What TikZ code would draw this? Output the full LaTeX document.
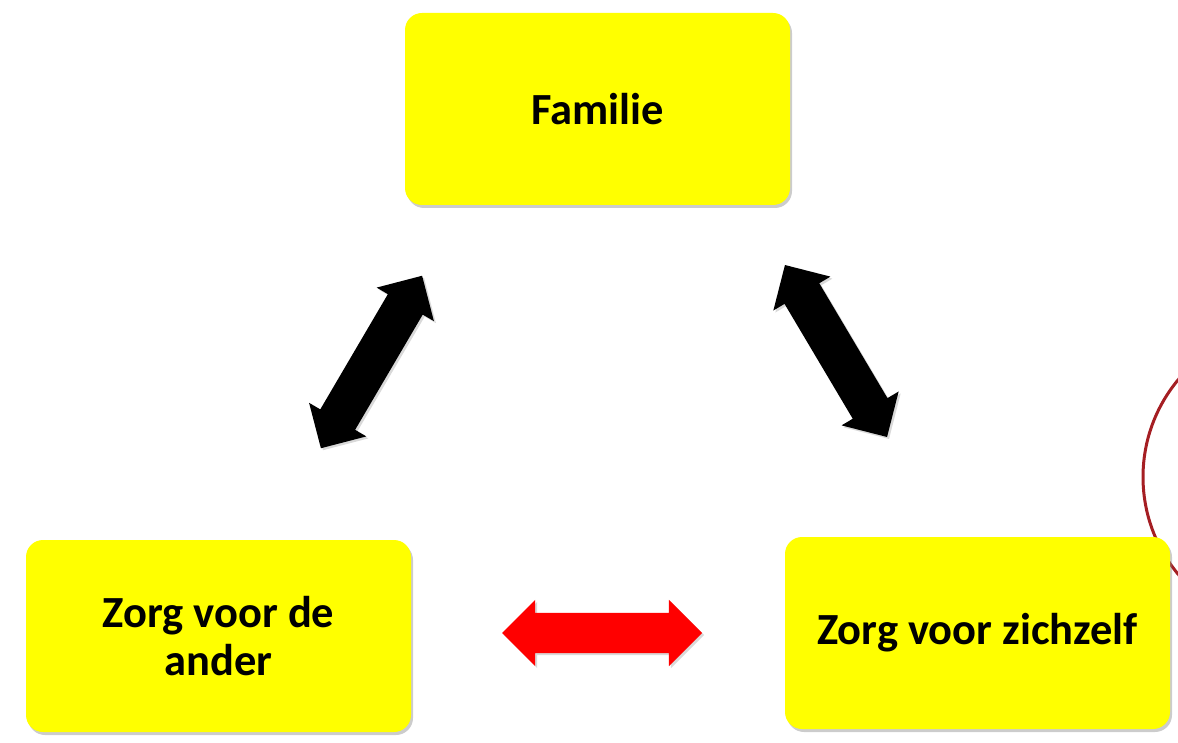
\documentclass[tikz,border=0pt]{standalone}
\usepackage{fontspec}
\setmainfont{Carlito}
\usepackage{tikz}
\usetikzlibrary{positioning}
\usetikzlibrary{shapes.arrows}
\usetikzlibrary{shadows}
\definecolor{ringred}{RGB}{165,30,35}
\definecolor{boxyellow}{RGB}{255,255,0}

\begin{document}
\begin{tikzpicture}[x=1pt,y=-1pt,
        box/.style={rectangle,rounded corners=17pt,fill=boxyellow,minimum width=385pt,minimum height=192pt,
                    align=center,font=\fontsize{44.5}{48}\selectfont\bfseries,
                    drop shadow={shadow xshift=2pt,shadow yshift=-3pt,opacity=.4}},
        twoway/.style={double arrow,double arrow head extend=13pt,minimum height=200pt,
                    inner xsep=0pt,inner ysep=20pt,draw=none,drop shadow={shadow xshift=2pt,shadow yshift=-2pt,opacity=.3}}]
        \useasboundingbox (0,0) rectangle (1178,743);
        \clip (0,0) rectangle (1178,743);

        % ring behind the right box
        \draw[ringred,line width=3pt] (1295,477) circle (152);

        \node[box] (fam) at (597.5,109) {Familie};
        \node[box] (ander) at (218.5,636) {Zorg voor de\\ander};
        \node[box] (zelf) at (977.5,633) {Zorg voor zichzelf};

        \node[twoway,fill=black,rotate=59.6] (famander) at (371.5,362) {};
        \node[twoway,fill=black,rotate=-59.3] (famzelf) at (836,351) {};
        \node[twoway,fill=red] (anderzelf) at (602,633) {};
      \end{tikzpicture}
\end{document}
